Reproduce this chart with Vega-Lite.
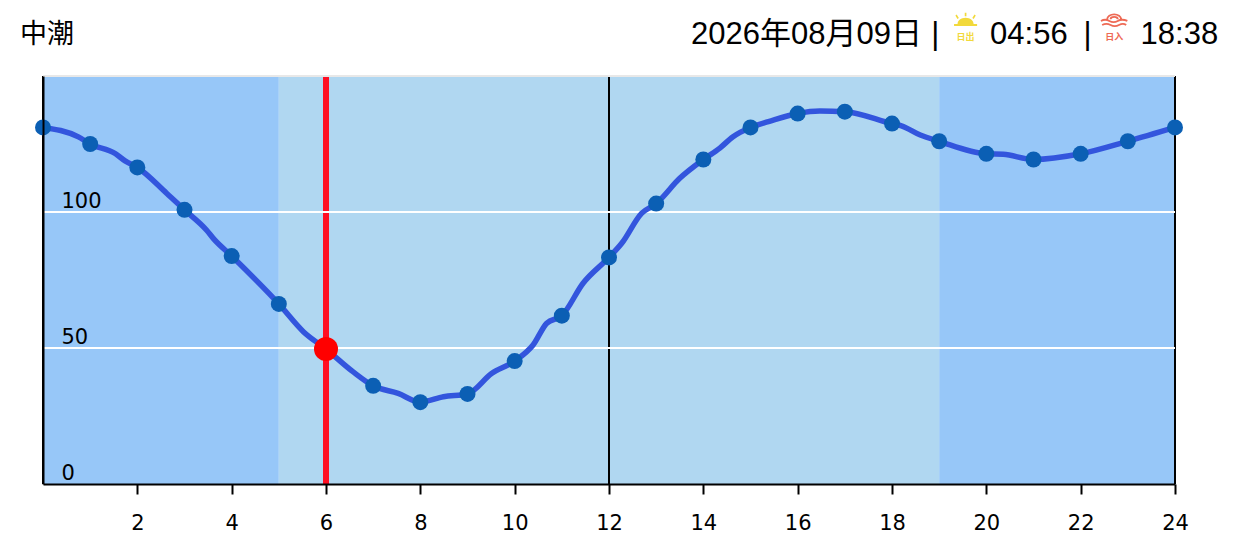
{
  "$schema": "https://vega.github.io/schema/vega-lite/v6.json",
  "autosize": "none",
  "width": 1132,
  "height": 408,
  "padding": {"left": 43, "top": 76, "right": 59, "bottom": 61},
  "background": "#ffffff",
  "config": {"view": {"stroke": null}},
  "datasets": {
    "tide": [
      {"hour": 0, "level": 131.1}, {"hour": 1, "level": 125}, {"hour": 2, "level": 116.4},
      {"hour": 3, "level": 100.8}, {"hour": 4, "level": 83.8}, {"hour": 5, "level": 66.2},
      {"hour": 7, "level": 36.1}, {"hour": 8, "level": 30.1}, {"hour": 9, "level": 33.1},
      {"hour": 10, "level": 45.2}, {"hour": 11, "level": 61.9}, {"hour": 12, "level": 83.3},
      {"hour": 13, "level": 103.1}, {"hour": 14, "level": 119.3}, {"hour": 15, "level": 131.1},
      {"hour": 16, "level": 136.2}, {"hour": 17, "level": 136.9}, {"hour": 18, "level": 132.5},
      {"hour": 19, "level": 126}, {"hour": 20, "level": 121.4}, {"hour": 21, "level": 119.3},
      {"hour": 22, "level": 121.4}, {"hour": 23, "level": 126}, {"hour": 24, "level": 131.1}
    ],
    "tideLine": [
      {"hour": 0, "level": 131.1}, {"hour": 0.75, "level": 127.6}, {"hour": 1, "level": 125},
      {"hour": 1.53, "level": 121.5}, {"hour": 1.74, "level": 118.8}, {"hour": 2, "level": 116.4},
      {"hour": 2.62, "level": 106.9}, {"hour": 3, "level": 100.8}, {"hour": 3.47, "level": 93.3},
      {"hour": 3.61, "level": 90.3}, {"hour": 4, "level": 83.8}, {"hour": 5, "level": 66.2},
      {"hour": 5.52, "level": 56}, {"hour": 6, "level": 49.6}, {"hour": 6.57, "level": 41.3},
      {"hour": 7, "level": 36.1}, {"hour": 7.53, "level": 33.3}, {"hour": 8, "level": 30.1},
      {"hour": 8.49, "level": 32.1}, {"hour": 9, "level": 33.1}, {"hour": 9.51, "level": 40.6},
      {"hour": 10, "level": 45.2}, {"hour": 10.39, "level": 51.1}, {"hour": 10.68, "level": 59.1},
      {"hour": 11, "level": 61.9}, {"hour": 11.45, "level": 73.8}, {"hour": 12, "level": 83.3},
      {"hour": 12.27, "level": 88.5}, {"hour": 12.69, "level": 99.5}, {"hour": 13, "level": 103.1},
      {"hour": 13.5, "level": 112.4}, {"hour": 14, "level": 119.3}, {"hour": 14.35, "level": 123.5},
      {"hour": 14.63, "level": 127.7}, {"hour": 15, "level": 131.1}, {"hour": 15.38, "level": 133.2},
      {"hour": 16, "level": 136.2}, {"hour": 16.47, "level": 137.1}, {"hour": 17, "level": 136.9},
      {"hour": 18, "level": 132.5}, {"hour": 18.2, "level": 131.7}, {"hour": 18.6, "level": 128.3},
      {"hour": 19, "level": 126}, {"hour": 20, "level": 121.4}, {"hour": 20.36, "level": 121.2},
      {"hour": 21, "level": 119.3}, {"hour": 22, "level": 121.4}, {"hour": 23, "level": 126},
      {"hour": 24, "level": 131.1}
    ],
    "bands": [
      {"start": 0, "end": 5, "phase": "night"},
      {"start": 5, "end": 19, "phase": "day"},
      {"start": 19, "end": 24, "phase": "night"}
    ],
    "grid": [{"level": 50}, {"level": 100}],
    "hours": [{"hour": 0}, {"hour": 12}, {"hour": 24}],
    "now": [{"hour": 6, "level": 49.6}],
    "headerLarge": [
      {"hour": 13.74, "level": 164.9, "label": "2026年08月09日"},
      {"hour": 18.83, "level": 164.9, "label": "|"},
      {"hour": 20.08, "level": 164.9, "label": "04:56"},
      {"hour": 22.06, "level": 164.9, "label": "|"},
      {"hour": 23.27, "level": 164.9, "label": "18:38"}
    ],
    "headerLeft": [{"hour": -0.49, "level": 165.2, "label": "中潮"}],
    "iconLabels": [
      {"hour": 19.56, "level": 164.2, "label": "日出", "color": "#f2d93b"},
      {"hour": 22.71, "level": 164.2, "label": "日入", "color": "#ee6a55"}
    ],
    "sun": [{"hour": 19.56, "level": 170.6}],
    "sunset": [{"hour": 22.71, "level": 170.6}]
  },
  "encoding": {
    "x": {"type": "quantitative", "scale": {"domain": [0, 24], "nice": false}},
    "y": {"type": "quantitative", "scale": {"domain": [0, 150], "nice": false}}
  },
  "layer": [
    {
      "data": {"name": "bands"},
      "mark": {"type": "rect"},
      "encoding": {
        "x": {
          "field": "start",
          "type": "quantitative",
          "scale": {"domain": [0, 24], "nice": false},
          "axis": {
            "values": [2, 4, 6, 8, 10, 12, 14, 16, 18, 20, 22, 24],
            "title": null,
            "grid": false,
            "zindex": 1,
            "domainColor": "#000000",
            "domainWidth": 2,
            "tickColor": "#000000",
            "tickWidth": 2,
            "tickSize": 10,
            "labelColor": "#000000",
            "labelFont": "DejaVu Sans",
            "labelFontSize": 21,
            "labelPadding": 18,
            "labelFlush": false
          }
        },
        "x2": {"field": "end"},
        "color": {
          "field": "phase",
          "type": "nominal",
          "scale": {"domain": ["night", "day"], "range": ["#97c7f8", "#b0d7f1"]},
          "legend": null
        }
      }
    },
    {
      "data": {"name": "now"},
      "mark": {"type": "rule", "color": "#ff0f23", "strokeWidth": 6},
      "encoding": {"x": {"field": "hour", "type": "quantitative"}}
    },
    {
      "data": {"name": "hours"},
      "mark": {"type": "rule", "color": "#000000", "strokeWidth": 2},
      "encoding": {"x": {"field": "hour", "type": "quantitative"}}
    },
    {
      "data": {"name": "grid"},
      "mark": {"type": "rule", "color": "#ffffff", "strokeWidth": 2},
      "encoding": {
        "y": {
          "field": "level",
          "type": "quantitative",
          "scale": {"domain": [0, 150], "nice": false},
          "axis": {
            "values": [0, 50, 100],
            "title": null,
            "grid": false,
            "ticks": false,
            "zindex": 1,
            "domainColor": "#000000",
            "domainWidth": 2,
            "labelColor": "#000000",
            "labelFont": "DejaVu Sans",
            "labelFontSize": 21,
            "labelAlign": "left",
            "labelBaseline": "alphabetic",
            "labelPadding": -18,
            "labelOffset": -4.5
          }
        }
      }
    },
    {
      "data": {"values": [{"level": 150}]},
      "mark": {"type": "rule", "color": "#e8e8e8", "strokeWidth": 2},
      "encoding": {"y": {"field": "level", "type": "quantitative"}}
    },
    {
      "data": {"name": "tideLine"},
      "mark": {"type": "line", "color": "#3355dd", "strokeWidth": 5.5, "interpolate": "monotone"},
      "encoding": {
        "x": {"field": "hour", "type": "quantitative"},
        "y": {"field": "level", "type": "quantitative"}
      }
    },
    {
      "data": {"name": "tide"},
      "mark": {"type": "point", "filled": true, "color": "#0b5fb4", "size": 256, "opacity": 1},
      "encoding": {
        "x": {"field": "hour", "type": "quantitative"},
        "y": {"field": "level", "type": "quantitative"}
      }
    },
    {
      "data": {"name": "now"},
      "mark": {"type": "point", "filled": true, "color": "#ff0000", "size": 576, "opacity": 1},
      "encoding": {
        "x": {"field": "hour", "type": "quantitative"},
        "y": {"field": "level", "type": "quantitative"}
      }
    },
    {
      "data": {"name": "headerLarge"},
      "mark": {"type": "text", "align": "left", "baseline": "middle", "font": "Liberation Sans, Noto Sans CJK SC", "fontSize": 31, "color": "#000000"},
      "encoding": {
        "x": {"field": "hour", "type": "quantitative"},
        "y": {"field": "level", "type": "quantitative"},
        "text": {"field": "label"}
      }
    },
    {
      "data": {"name": "headerLeft"},
      "mark": {"type": "text", "align": "left", "baseline": "middle", "font": "Noto Sans CJK SC", "fontSize": 27, "color": "#000000"},
      "encoding": {
        "x": {"field": "hour", "type": "quantitative"},
        "y": {"field": "level", "type": "quantitative"},
        "text": {"field": "label"}
      }
    },
    {
      "data": {"name": "iconLabels"},
      "mark": {"type": "text", "align": "center", "baseline": "middle", "font": "Noto Sans CJK SC", "fontSize": 9, "fontWeight": "bold"},
      "encoding": {
        "x": {"field": "hour", "type": "quantitative"},
        "y": {"field": "level", "type": "quantitative"},
        "text": {"field": "label"},
        "color": {"field": "color", "type": "nominal", "scale": null}
      }
    },
    {
      "data": {"name": "sun"},
      "mark": {
        "type": "point",
        "filled": true,
        "color": "#f2d93b",
        "opacity": 1,
        "size": 576,
        "shape": "M-0.67,0.33A0.67,0.52 0 0 1 0.67,0.33ZM-0.96,0.33H0.96V0.5H-0.96ZM-0.07,-0.6H0.07V-0.3H-0.07ZM-0.85,-0.38L-0.74,-0.45L-0.56,-0.16L-0.68,-0.09ZM0.85,-0.38L0.74,-0.45L0.56,-0.16L0.68,-0.09Z"
      },
      "encoding": {
        "x": {"field": "hour", "type": "quantitative"},
        "y": {"field": "level", "type": "quantitative"}
      }
    },
    {
      "data": {"name": "sunset"},
      "mark": {
        "type": "point",
        "filled": false,
        "color": "#ee6a55",
        "opacity": 1,
        "strokeWidth": 1.8,
        "size": 576,
        "shape": "M-0.58,-0.05A0.58,0.42 0 0 1 0.58,-0.05M-0.3,-0.05A0.3,0.2 0 0 1 0.3,-0.05M-1.1,0.08Q-0.75,-0.12 -0.4,0.08T0.3,0.08T1.1,0.08M-1,0.42Q-0.65,0.22 -0.3,0.42T0.4,0.42T1,0.42"
      },
      "encoding": {
        "x": {"field": "hour", "type": "quantitative"},
        "y": {"field": "level", "type": "quantitative"}
      }
    }
  ]
}
